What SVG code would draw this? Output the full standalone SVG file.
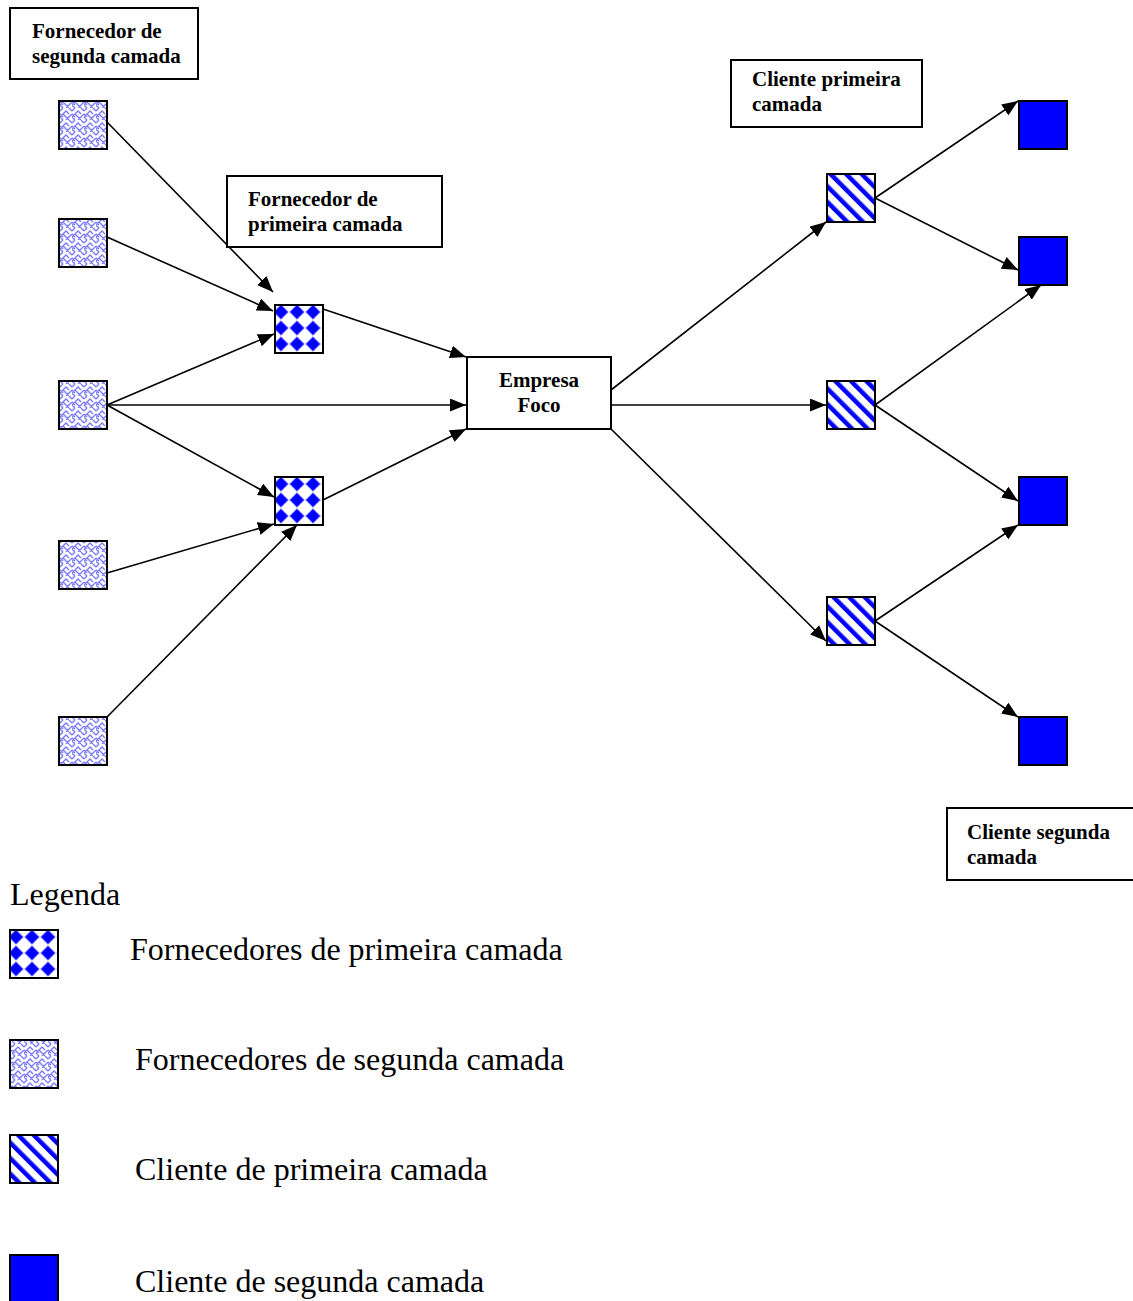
<svg xmlns="http://www.w3.org/2000/svg" width="1133" height="1301" viewBox="0 0 1133 1301">
<style>
.lbl{fill:#fff;stroke:#000;stroke-width:2}
.bt{font-family:"Liberation Serif","Times New Roman",serif;font-weight:bold;font-size:21px;fill:#000}
.lt{font-family:"Liberation Serif","Times New Roman",serif;font-size:32px;fill:#000}
.sq{stroke:#000;stroke-width:2}
.weave{fill:url(#weave)}
.dia{fill:url(#dia)}
.str{fill:url(#str)}
.sol{fill:#0000ff}
.cn line{stroke:#000;stroke-width:1.6;marker-end:url(#ah)}
</style>
<defs>
<marker id="ah" markerUnits="userSpaceOnUse" markerWidth="17" markerHeight="13" refX="16" refY="6.5" orient="auto">
<path d="M0,0 L16,6.5 L0,13 z" fill="#000"/>
</marker>
<pattern id="weave" patternUnits="userSpaceOnUse" width="12" height="12">
<rect width="12" height="12" fill="#fff"/>
<path d="M0,3 L3,0 M0,9 L6,3 L9,6 M6,12 L12,6 M3,6 L6,9 L9,12 M9,0 L12,3 M0,6 L3,9 M3,12 L0,9" stroke="#7a7aff" stroke-width="1.4" fill="none"/>
</pattern>
<pattern id="dia" patternUnits="objectBoundingBox" width="0.33333" height="0.33333">
<rect width="16" height="16" fill="#fff"/>
<path d="M6,0 L13,7 L6,14 L-1,7 z M22,0 L29,7 L22,14 L15,7 z M6,16 L13,23 L6,30 L-1,23 z M6,-16 L13,-9 L6,-2 L-1,-9 z" fill="#0000ff" stroke="#5a5aff" stroke-width="1"/>
</pattern>
<pattern id="str" patternUnits="userSpaceOnUse" width="11" height="11" patternTransform="rotate(-45)">
<rect width="11" height="11" fill="#fff"/>
<rect width="4.5" height="11" fill="#0000ff"/>
</pattern>
</defs>
<g id="connectors" class="cn">
<line x1="107" y1="122" x2="273" y2="292"/>
<line x1="107" y1="237" x2="273" y2="311"/>
<line x1="107" y1="405" x2="274" y2="334"/>
<line x1="107" y1="405" x2="466" y2="405"/>
<line x1="107" y1="405" x2="274" y2="497"/>
<line x1="107" y1="573" x2="274" y2="524"/>
<line x1="107" y1="717" x2="297" y2="525"/>
<line x1="323" y1="309" x2="466" y2="357"/>
<line x1="323" y1="500" x2="466" y2="429"/>
<line x1="611" y1="390" x2="826" y2="222"/>
<line x1="611" y1="405" x2="826" y2="405"/>
<line x1="611" y1="429" x2="826" y2="641"/>
<line x1="875" y1="198" x2="1018" y2="101"/>
<line x1="875" y1="198" x2="1018" y2="270"/>
<line x1="875" y1="405" x2="1041" y2="285"/>
<line x1="875" y1="405" x2="1018" y2="501"/>
<line x1="875" y1="621" x2="1018" y2="525"/>
<line x1="875" y1="621" x2="1018" y2="717"/>
</g>
<g id="s1"><rect class="sq weave" x="59" y="101" width="48" height="48"/></g>
<g id="s2"><rect class="sq weave" x="59" y="219" width="48" height="48"/></g>
<g id="s3"><rect class="sq weave" x="59" y="381" width="48" height="48"/></g>
<g id="s4"><rect class="sq weave" x="59" y="541" width="48" height="48"/></g>
<g id="s5"><rect class="sq weave" x="59" y="717" width="48" height="48"/></g>
<g id="f1"><rect class="sq dia" x="275" y="305" width="48" height="48"/></g>
<g id="f2"><rect class="sq dia" x="275" y="477" width="48" height="48"/></g>
<g id="empresa"><rect class="lbl" x="467" y="357" width="144" height="72"/>
<text class="bt" x="539" y="387" text-anchor="middle">Empresa</text>
<text class="bt" x="539" y="412" text-anchor="middle">Foco</text></g>
<g id="c1"><rect class="sq str" x="827" y="174" width="48" height="48"/></g>
<g id="c2"><rect class="sq str" x="827" y="381" width="48" height="48"/></g>
<g id="c3"><rect class="sq str" x="827" y="597" width="48" height="48"/></g>
<g id="cc1"><rect class="sq sol" x="1019" y="101" width="48" height="48"/></g>
<g id="cc2"><rect class="sq sol" x="1019" y="237" width="48" height="48"/></g>
<g id="cc3"><rect class="sq sol" x="1019" y="477" width="48" height="48"/></g>
<g id="cc4"><rect class="sq sol" x="1019" y="717" width="48" height="48"/></g>
<g id="lbl-fsc"><rect class="lbl" x="10" y="8" width="188" height="71"/>
<text class="bt" x="32" y="38">Fornecedor de</text>
<text class="bt" x="32" y="63">segunda camada</text></g>
<g id="lbl-fpc"><rect class="lbl" x="227" y="176" width="215" height="71"/>
<text class="bt" x="248" y="206">Fornecedor de</text>
<text class="bt" x="248" y="231">primeira camada</text></g>
<g id="lbl-cpc"><rect class="lbl" x="731" y="60" width="191" height="67"/>
<text class="bt" x="752" y="86">Cliente primeira</text>
<text class="bt" x="752" y="111">camada</text></g>
<g id="lbl-csc"><rect class="lbl" x="947" y="808" width="190" height="72"/>
<text class="bt" x="967" y="839">Cliente segunda</text>
<text class="bt" x="967" y="864">camada</text></g>
<g id="legend">
<text class="lt" x="10" y="905">Legenda</text>
<rect class="sq dia" x="10" y="930" width="48" height="48"/>
<text class="lt" x="130" y="960">Fornecedores de primeira camada</text>
<rect class="sq weave" x="10" y="1040" width="48" height="48"/>
<text class="lt" x="135" y="1070">Fornecedores de segunda camada</text>
<rect class="sq str" x="10" y="1135" width="48" height="48"/>
<text class="lt" x="135" y="1180">Cliente de primeira camada</text>
<rect class="sq sol" x="10" y="1255" width="48" height="48"/>
<text class="lt" x="135" y="1292">Cliente de segunda camada</text>
</g>
</svg>
